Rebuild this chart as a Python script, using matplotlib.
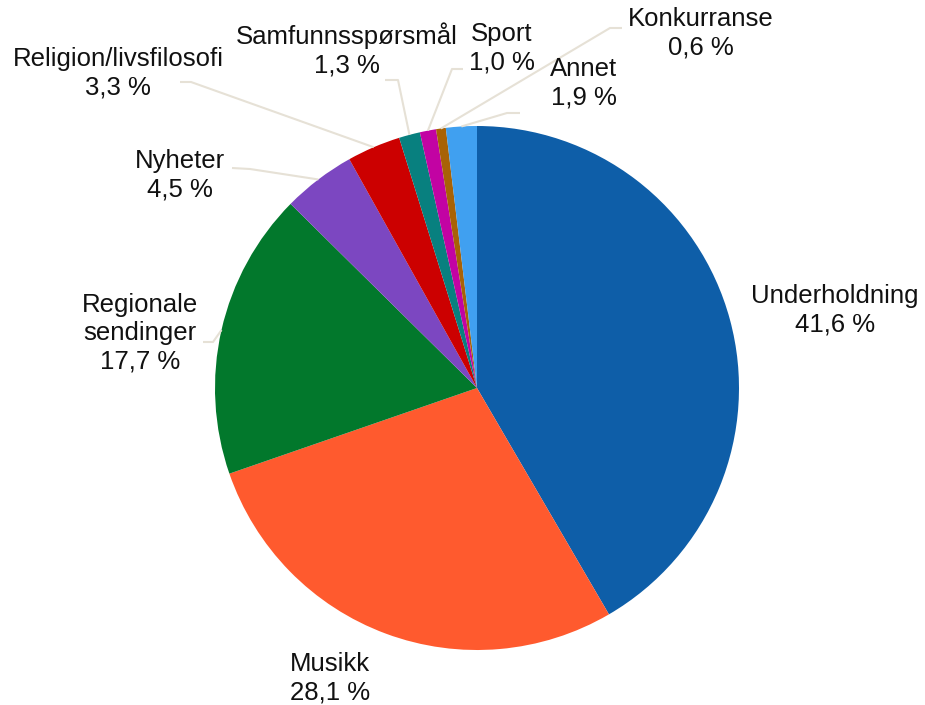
import numpy as np
import matplotlib
matplotlib.use("Agg")
import matplotlib.pyplot as plt

categories = ["Underholdning", "Musikk", "Regionale\nsendinger", "Nyheter",
              "Religion/livsfilosofi", "Samfunnsspørsmål", "Sport",
              "Konkurranse", "Annet"]
shares = [41.6, 28.1, 17.7, 4.5, 3.3, 1.3, 1.0, 0.6, 1.9]
colors = ["#0E5EA8", "#FF5A2E", "#02782C", "#7C47C1", "#CC0000",
          "#08807F", "#C203A3", "#A86206", "#40A0F0"]

# label layout in pixel coords: text centre, and leader elbow points (None = no leader)
label_pos = [(835, 310), (330, 678), (140, 333), (180, 175), (118, 73),
             (347, 50), (502, 48), (701, 33), (584, 83)]
leaders = [None, None,
           [(203, 342), (213, 342)],
           [(232, 168), (250, 169)],
           [(180, 82), (191, 82)],
           [(385, 80), (398, 80)],
           [(463, 69), (452, 69)],
           [(622, 28), (610, 28)],
           [(520, 113), (507, 113)]]

cx, cy, r = 477, 388, 262

fig = plt.figure(figsize=(9.25, 7.05), dpi=100)
ax = fig.add_axes([0, 0, 1, 1])
ax.pie(shares, colors=colors, startangle=-90, counterclock=True,
       center=(cx, cy), radius=r, wedgeprops=dict(linewidth=0))
ax.set_xlim(0, 925)
ax.set_ylim(705, 0)
ax.set_aspect("equal")
ax.axis("off")

cum = np.cumsum([0] + shares)
for i, (cat, val) in enumerate(zip(categories, shares)):
    mid = (cum[i] + val / 2) / 100 * 2 * np.pi
    # clockwise from the top on screen
    ex, ey = cx + r * np.sin(mid), cy - r * np.cos(mid)
    if leaders[i] is not None:
        (x0, y0), (x1, y1) = leaders[i]
        ax.plot([x0, x1, ex], [y0, y1, ey], color="#E6E1D6", lw=1.5,
                solid_capstyle="butt", zorder=3)
    txt = f"{cat}\n{val:.1f} %".replace(".", ",")
    ax.text(label_pos[i][0], label_pos[i][1], txt, ha="center", va="center",
            fontsize=18.5, family="Liberation Sans", color="#111111",
            linespacing=1.22)

fig.savefig("out.png", dpi=100)
